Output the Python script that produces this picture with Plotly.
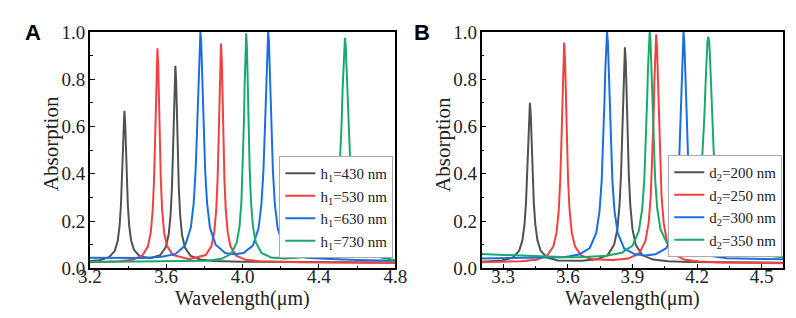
import plotly.graph_objects as go

# ---------------- Panel A : h1 sweep ----------------
a_x_430 = [3.200, 3.250, 3.301, 3.331, 3.346, 3.356, 3.363, 3.369, 3.373, 3.377, 3.381, 3.385, 3.389, 3.393,
           3.399, 3.406, 3.416, 3.431, 3.461, 3.515, 3.568, 3.598, 3.613, 3.623, 3.630, 3.636, 3.640, 3.644,
           3.648, 3.652, 3.656, 3.660, 3.666, 3.673, 3.683, 3.698, 3.728, 3.778, 3.848, 4.000, 4.800]
a_y_430 = [0.031, 0.034, 0.047, 0.074, 0.116, 0.180, 0.269, 0.395, 0.509, 0.617, 0.667, 0.618, 0.510, 0.396,
           0.270, 0.182, 0.118, 0.078, 0.051, 0.043, 0.055, 0.090, 0.143, 0.227, 0.341, 0.506, 0.653, 0.794,
           0.857, 0.794, 0.653, 0.506, 0.340, 0.226, 0.141, 0.088, 0.052, 0.037, 0.031, 0.028, 0.025]

a_x_530 = [3.200, 3.354, 3.424, 3.474, 3.504, 3.519, 3.529, 3.536, 3.542, 3.546, 3.550, 3.554, 3.558, 3.562,
           3.566, 3.572, 3.579, 3.589, 3.604, 3.634, 3.720, 3.807, 3.837, 3.852, 3.862, 3.869, 3.875, 3.879,
           3.883, 3.887, 3.891, 3.895, 3.899, 3.905, 3.912, 3.922, 3.937, 3.967, 4.017, 4.087, 4.300, 4.800]
a_y_530 = [0.026, 0.030, 0.036, 0.053, 0.092, 0.151, 0.242, 0.367, 0.547, 0.708, 0.862, 0.931, 0.862, 0.708,
           0.547, 0.367, 0.243, 0.152, 0.095, 0.057, 0.038, 0.056, 0.094, 0.155, 0.247, 0.375, 0.559, 0.723,
           0.881, 0.951, 0.881, 0.723, 0.559, 0.374, 0.246, 0.153, 0.092, 0.053, 0.036, 0.030, 0.026, 0.022]

a_x_630 = [3.200, 3.479, 3.579, 3.649, 3.699, 3.729, 3.744, 3.754, 3.761, 3.767, 3.771, 3.775, 3.779, 3.783,
           3.787, 3.791, 3.797, 3.804, 3.814, 3.829, 3.859, 3.909, 3.957, 4.004, 4.054, 4.084, 4.099, 4.109,
           4.116, 4.122, 4.126, 4.130, 4.134, 4.138, 4.142, 4.146, 4.152, 4.159, 4.169, 4.184, 4.214, 4.264,
           4.334, 4.434, 4.600, 4.800]
a_y_630 = [0.045, 0.044, 0.049, 0.061, 0.096, 0.172, 0.276, 0.414, 0.570, 0.746, 0.868, 0.964, 1.000, 0.964,
           0.868, 0.746, 0.570, 0.414, 0.276, 0.172, 0.100, 0.065, 0.059, 0.065, 0.096, 0.170, 0.275, 0.410,
           0.567, 0.743, 0.865, 0.961, 1.000, 0.961, 0.865, 0.743, 0.567, 0.410, 0.272, 0.168, 0.092, 0.058,
           0.045, 0.040, 0.035, 0.032]

a_x_730 = [3.200, 3.719, 3.819, 3.889, 3.939, 3.969, 3.984, 3.994, 4.001, 4.007, 4.011, 4.015, 4.019, 4.023,
           4.027, 4.031, 4.037, 4.044, 4.054, 4.069, 4.099, 4.149, 4.219, 4.336, 4.406, 4.456, 4.486, 4.501,
           4.511, 4.518, 4.524, 4.528, 4.532, 4.536, 4.540, 4.544, 4.548, 4.554, 4.561, 4.571, 4.586, 4.616,
           4.666, 4.736, 4.800]
a_y_730 = [0.027, 0.029, 0.032, 0.040, 0.060, 0.107, 0.177, 0.284, 0.424, 0.617, 0.781, 0.931, 0.995, 0.931,
           0.781, 0.617, 0.424, 0.285, 0.179, 0.110, 0.065, 0.046, 0.042, 0.048, 0.062, 0.101, 0.187, 0.301,
           0.445, 0.598, 0.760, 0.865, 0.945, 0.975, 0.945, 0.865, 0.760, 0.598, 0.445, 0.300, 0.186, 0.100,
           0.060, 0.044, 0.035]

# ---------------- Panel B : d2 sweep ----------------
b_x_200 = [3.200, 3.294, 3.344, 3.374, 3.389, 3.399, 3.406, 3.412, 3.416, 3.420, 3.424, 3.428, 3.432, 3.436,
           3.442, 3.449, 3.459, 3.474, 3.504, 3.554, 3.624, 3.665, 3.735, 3.785, 3.815, 3.830, 3.840, 3.847,
           3.853, 3.857, 3.861, 3.865, 3.869, 3.873, 3.877, 3.883, 3.890, 3.900, 3.915, 3.945, 3.995, 4.065,
           4.165, 4.600]
b_y_200 = [0.028, 0.033, 0.045, 0.074, 0.118, 0.186, 0.279, 0.414, 0.534, 0.649, 0.700, 0.649, 0.534, 0.414,
           0.279, 0.186, 0.118, 0.074, 0.045, 0.033, 0.032, 0.032, 0.038, 0.056, 0.100, 0.166, 0.266, 0.398,
           0.580, 0.734, 0.875, 0.935, 0.875, 0.734, 0.580, 0.398, 0.266, 0.166, 0.100, 0.056, 0.037, 0.030,
           0.027, 0.024]

b_x_250 = [3.200, 3.383, 3.453, 3.503, 3.533, 3.548, 3.558, 3.565, 3.571, 3.575, 3.579, 3.583, 3.587, 3.591,
           3.595, 3.601, 3.608, 3.618, 3.633, 3.663, 3.713, 3.810, 3.880, 3.930, 3.960, 3.975, 3.985, 3.992,
           3.998, 4.002, 4.006, 4.010, 4.014, 4.018, 4.022, 4.028, 4.035, 4.045, 4.060, 4.090, 4.140, 4.210,
           4.310, 4.600]
b_y_250 = [0.026, 0.030, 0.036, 0.053, 0.093, 0.153, 0.247, 0.376, 0.561, 0.726, 0.884, 0.955, 0.884, 0.726,
           0.561, 0.376, 0.247, 0.153, 0.093, 0.053, 0.038, 0.035, 0.041, 0.062, 0.115, 0.192, 0.305, 0.451,
           0.643, 0.797, 0.933, 0.990, 0.933, 0.797, 0.643, 0.451, 0.305, 0.192, 0.115, 0.060, 0.037, 0.029,
           0.025, 0.021]

b_x_300 = [3.200, 3.482, 3.582, 3.652, 3.702, 3.732, 3.747, 3.757, 3.764, 3.770, 3.774, 3.778, 3.782, 3.786,
           3.790, 3.794, 3.800, 3.807, 3.817, 3.832, 3.862, 3.912, 3.960, 4.007, 4.057, 4.087, 4.102, 4.112,
           4.119, 4.125, 4.129, 4.133, 4.137, 4.141, 4.145, 4.149, 4.155, 4.162, 4.172, 4.187, 4.217, 4.267,
           4.337, 4.437, 4.600]
b_y_300 = [0.042, 0.044, 0.047, 0.058, 0.086, 0.150, 0.241, 0.367, 0.520, 0.704, 0.842, 0.955, 1.000, 0.955,
           0.842, 0.704, 0.520, 0.367, 0.240, 0.148, 0.083, 0.059, 0.054, 0.059, 0.085, 0.145, 0.236, 0.362,
           0.515, 0.699, 0.837, 0.950, 1.000, 0.950, 0.837, 0.699, 0.515, 0.360, 0.233, 0.142, 0.078, 0.052,
           0.043, 0.040, 0.038]

b_x_350 = [3.200, 3.400, 3.600, 3.680, 3.780, 3.850, 3.900, 3.930, 3.945, 3.955, 3.962, 3.968, 3.972, 3.976,
           3.980, 3.984, 3.988, 3.992, 3.998, 4.005, 4.015, 4.030, 4.060, 4.110, 4.172, 4.202, 4.217, 4.227,
           4.234, 4.240, 4.244, 4.248, 4.252, 4.256, 4.260, 4.264, 4.270, 4.277, 4.287, 4.302, 4.332, 4.382,
           4.452, 4.600]
b_y_350 = [0.060, 0.052, 0.047, 0.048, 0.053, 0.066, 0.095, 0.159, 0.250, 0.375, 0.526, 0.709, 0.845, 0.957,
           1.000, 0.957, 0.846, 0.710, 0.530, 0.381, 0.253, 0.165, 0.107, 0.089, 0.130, 0.226, 0.349, 0.498,
           0.647, 0.797, 0.891, 0.959, 0.980, 0.959, 0.891, 0.797, 0.647, 0.497, 0.347, 0.223, 0.125, 0.079,
           0.059, 0.047]

a_names = ["h<sub>1</sub>=430 nm", "h<sub>1</sub>=530 nm", "h<sub>1</sub>=630 nm", "h<sub>1</sub>=730 nm"]
b_names = ["d<sub>2</sub>=200 nm", "d<sub>2</sub>=250 nm", "d<sub>2</sub>=300 nm", "d<sub>2</sub>=350 nm"]
colors = ["#515151", "#F14040", "#1A6FDF", "#1AA86B"]
x_title = "Wavelength(μm)"
y_title = "Absorption"

a_series = [(a_x_430, a_y_430), (a_x_530, a_y_530), (a_x_630, a_y_630), (a_x_730, a_y_730)]
b_series = [(b_x_200, b_y_200), (b_x_250, b_y_250), (b_x_300, b_y_300), (b_x_350, b_y_350)]

FONT = "Liberation Serif, Times New Roman, serif"
fig = go.Figure()
for (xs, ys), name, c in zip(a_series, a_names, colors):
    fig.add_trace(go.Scatter(x=xs, y=ys, mode="lines", name=name, line=dict(color=c, width=2),
                             xaxis="x", yaxis="y", legend="legend"))
for (xs, ys), name, c in zip(b_series, b_names, colors):
    fig.add_trace(go.Scatter(x=xs, y=ys, mode="lines", name=name, line=dict(color=c, width=2),
                             xaxis="x2", yaxis="y2", legend="legend2"))

ydom = [1 - 268 / 318, 1 - 15 / 318]
ax_common = dict(showgrid=False, zeroline=False, showline=True, linecolor="black", linewidth=1.6,
                 mirror=True, ticks="inside", ticklen=5, tickwidth=1.3, tickcolor="black",
                 tickfont=dict(family=FONT, size=19, color="#222"), tickformat=".1f")
xax = dict(ax_common, ticklabelstandoff=-10)
yax = dict(ax_common, ticklabelstandoff=-1)

legend_common = dict(xanchor="right", yanchor="bottom", bgcolor="white", bordercolor="#aaaaaa",
                     borderwidth=1, font=dict(family=FONT, size=15, color="#222"),
                     tracegroupgap=0, itemwidth=30)

fig.update_layout(
    width=796, height=318, margin=dict(l=0, r=0, t=0, b=0),
    paper_bgcolor="white", plot_bgcolor="white", showlegend=True,
    xaxis=dict(xax, domain=[72 / 796, 387 / 796], range=[3.2, 4.8], dtick=0.4, tick0=3.2,
               minor=dict(ticks="inside", ticklen=3, dtick=0.2, tick0=3.2, tickcolor="black"),
               anchor="y"),
    yaxis=dict(yax, domain=ydom, range=[0, 1.0], dtick=0.2, tick0=0,
               minor=dict(ticks="inside", ticklen=3, dtick=0.1, tick0=0, tickcolor="black"),
               anchor="x"),
    xaxis2=dict(xax, domain=[476 / 796, 787 / 796], range=[3.2, 4.6], dtick=0.3, tick0=3.3,
                minor=dict(ticks="inside", ticklen=3, dtick=0.15, tick0=3.3, tickcolor="black"),
                anchor="y2"),
    yaxis2=dict(yax, domain=ydom, range=[0, 1.0], dtick=0.2, tick0=0,
                minor=dict(ticks="inside", ticklen=3, dtick=0.1, tick0=0, tickcolor="black"),
                anchor="x2"),
    legend=dict(legend_common, x=385 / 796, y=1 - 257 / 318),
    legend2=dict(legend_common, x=786 / 796, y=1 - 256 / 318),
    annotations=[
        dict(text="<b>A</b>", x=3 / 796, y=1.0, xref="paper", yref="paper", xanchor="left", yanchor="top",
             showarrow=False, font=dict(family="Liberation Sans", size=22, color="black")),
        dict(text="<b>B</b>", x=404 / 796, y=1.0, xref="paper", yref="paper", xanchor="left", yanchor="top",
             showarrow=False, font=dict(family="Liberation Sans", size=22, color="black")),
        dict(text=x_title, x=229.5 / 796, y=1 - 300 / 318, xref="paper", yref="paper",
             xanchor="center", yanchor="middle", showarrow=False,
             font=dict(family=FONT, size=20, color="#222")),
        dict(text=x_title, x=631.5 / 796, y=1 - 300 / 318, xref="paper", yref="paper",
             xanchor="center", yanchor="middle", showarrow=False,
             font=dict(family=FONT, size=20, color="#222")),
        dict(text=y_title, x=32 / 796, y=1 - 135 / 318, xref="paper", yref="paper", textangle=-90,
             xanchor="center", yanchor="middle", showarrow=False,
             font=dict(family=FONT, size=21, color="#222")),
        dict(text=y_title, x=436 / 796, y=1 - 135 / 318, xref="paper", yref="paper", textangle=-90,
             xanchor="center", yanchor="middle", showarrow=False,
             font=dict(family=FONT, size=21, color="#222")),
    ],
)

fig.write_html("out.html")
